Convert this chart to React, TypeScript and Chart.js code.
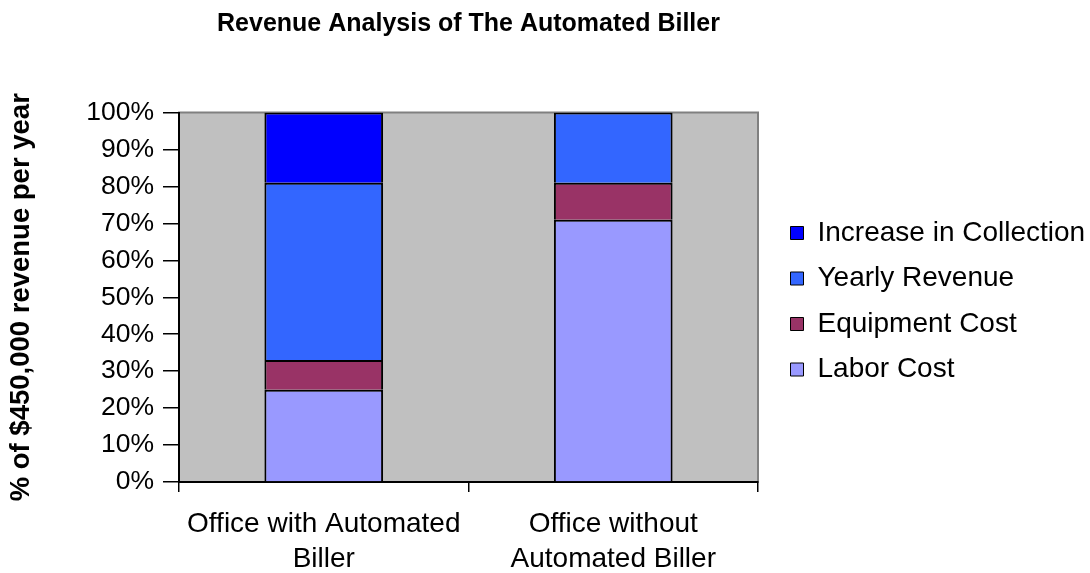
import React, { useEffect, useRef } from "react";
import { Chart, registerables } from "chart.js";

Chart.register(...registerables);

const chartTitle = "Revenue Analysis of The Automated Biller";
const yAxisTitle = "% of $450,000 revenue per year";
const categories = [
  ["Office with Automated", "Biller"],
  ["Office without", "Automated Biller"],
];
const seriesNames = ["Labor Cost", "Equipment Cost", "Yearly Revenue", "Increase in Collection"];
const laborCost = [25, 71];
const equipmentCost = [8, 10];
const yearlyRevenue = [48, 19];
const increaseInCollection = [19, 0];
const seriesColors = ["#9999FF", "#993366", "#3366FF", "#0000FF"];
const yTicks = [0, 10, 20, 30, 40, 50, 60, 70, 80, 90, 100];

const FONT = "'Liberation Sans', Arial, sans-serif";

const plotBg = {
  id: "plotBg",
  beforeDraw(chart: any) {
    const { ctx, chartArea } = chart;
    const { left, top, right, bottom } = chartArea;
    ctx.save();
    ctx.fillStyle = "#C0C0C0";
    ctx.fillRect(left, top, right - left, bottom - top);
    ctx.strokeStyle = "#808080";
    ctx.lineWidth = 2;
    ctx.strokeRect(left, top, right - left, bottom - top);
    ctx.restore();
  },
};

export default function App() {
  const ref = useRef<HTMLCanvasElement | null>(null);

  useEffect(() => {
    if (!ref.current) return;
    Chart.defaults.font.family = FONT;
    Chart.defaults.color = "#000";
    const values = [laborCost, equipmentCost, yearlyRevenue, increaseInCollection];
    const chart = new Chart(ref.current, {
      type: "bar",
      data: {
        labels: categories,
        datasets: values.map((v, i) => ({
          label: seriesNames[i],
          data: v,
          backgroundColor: seriesColors[i],
          borderColor: "#000",
          borderWidth: 2,
          borderSkipped: "start",
          barPercentage: 0.41,
          categoryPercentage: 1.0,
        })),
      },
      options: {
        responsive: false,
        animation: false,
        layout: { padding: { left: 0, right: 5, top: 0, bottom: 0 } },
        plugins: {
          title: {
            display: true,
            text: chartTitle,
            fullSize: false,
            color: "#000",
            font: { size: 25, weight: "bold", family: FONT, lineHeight: 1.2 },
            padding: { top: 9.2, bottom: 73.3 },
          },
          legend: {
            display: true,
            position: "right",
            fullSize: false,
            reverse: true,
            maxWidth: 312,
            title: { display: true, text: "", font: { size: 8, lineHeight: 1 }, padding: 0 },
            labels: {
              boxWidth: 13,
              boxHeight: 13,
              padding: 17.5,
              color: "#000",
              font: { size: 28, family: FONT },
              generateLabels(chart: any) {
                const items = Chart.defaults.plugins.legend.labels.generateLabels(chart);
                return items.map((it: any) => ({ ...it, lineWidth: 1, strokeStyle: "#000" }));
              },
            },
          },
          tooltip: { enabled: false },
        },
        scales: {
          x: {
            stacked: true,
            grid: {
              display: true,
              offset: true,
              drawOnChartArea: false,
              drawTicks: true,
              tickLength: 10,
              color: "#000",
              lineWidth: 1.5,
            },
            border: { display: true, color: "#000", width: 2 },
            ticks: {
              color: "#000",
              font: { size: 28, family: FONT, lineHeight: 1.24 },
              padding: 15,
              maxRotation: 0,
              autoSkip: false,
            },
            afterFit(scale: any) {
              scale.height = 91;
            },
          },
          y: {
            stacked: true,
            min: 0,
            max: 100,
            afterBuildTicks(scale: any) {
              scale.ticks = yTicks.map((v) => ({ value: v }));
            },
            grid: {
              display: true,
              drawOnChartArea: false,
              drawTicks: true,
              tickLength: 16,
              color: "#000",
              lineWidth: 1.5,
            },
            border: { display: true, color: "#000", width: 2 },
            ticks: {
              color: "#000",
              font: { size: 26.5, family: FONT },
              padding: 9,
              autoSkip: false,
              callback: (v: any) => v + "%",
            },
            title: {
              display: true,
              text: yAxisTitle,
              color: "#000",
              font: { size: 27.5, weight: "bold", family: FONT, lineHeight: 1.2 },
              padding: { top: 4.5, bottom: 0 },
            },
            afterFit(scale: any) {
              scale.width = 179;
            },
          },
          yGap: {
            type: "linear",
            position: "right",
            display: true,
            grid: { display: false },
            ticks: { display: false },
            border: { display: false },
            afterFit(scale: any) {
              scale.width = 15;
            },
          },
        },
      } as any,
      plugins: [plotBg],
    });
    return () => chart.destroy();
  }, []);

  return (
    <div style={{ position: "absolute", left: 0, top: 0, width: 1090, height: 573, background: "#fff" }}>
      <canvas ref={ref} width={1090} height={573} style={{ display: "block" }} />
    </div>
  );
}
